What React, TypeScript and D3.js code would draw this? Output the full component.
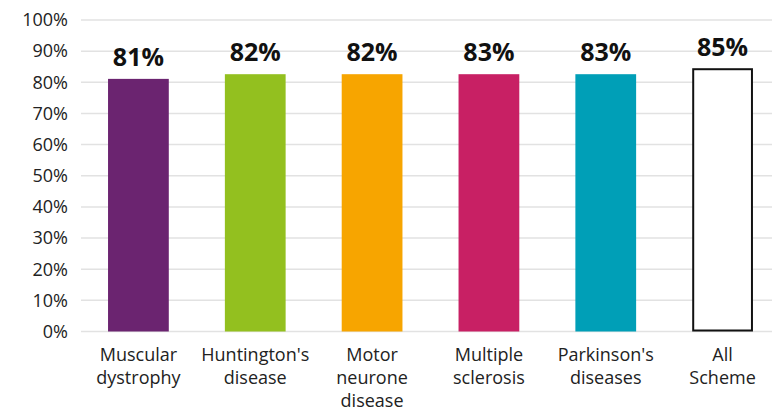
import React from "react";
import * as d3 from "d3";

const categories: string[][] = [
  ["Muscular", "dystrophy"],
  ["Huntington's", "disease"],
  ["Motor", "neurone", "disease"],
  ["Multiple", "sclerosis"],
  ["Parkinson's", "diseases"],
  ["All", "Scheme"],
];
const values: number[] = [81.1, 82.6, 82.6, 82.6, 82.6, 84.2];
const valueLabels: string[] = ["81%", "82%", "82%", "83%", "83%", "85%"];
const colors: string[] = ["#6B2470", "#93C01F", "#F7A500", "#C82064", "#009FB7", "#FFFFFF"];
const yTicks: number[] = [0, 10, 20, 30, 40, 50, 60, 70, 80, 90, 100];

const W = 772;
const H = 411;
const FONT = "'Open Sans', 'Noto Sans', sans-serif";

export default function App() {
  const x = d3
    .scaleBand<number>()
    .domain(d3.range(categories.length))
    .range([80, 781])
    .paddingInner(0.48)
    .paddingOuter(0.24);
  const y = d3.scaleLinear().domain([0, 100]).range([331.5, 20]);

  return (
    <svg
      width={W}
      height={H}
      style={{ position: "absolute", left: 0, top: 0, fontFamily: FONT }}
    >
      <rect width={W} height={H} fill="#fff" />
      {yTicks.map((t) => (
        <g key={t}>
          <line x1={81} x2={W} y1={y(t)} y2={y(t)} stroke="#e2e2e2" strokeWidth={1.5} />
          <text
            x={68}
            y={y(t)}
            dy="0.35em"
            textAnchor="end"
            fontSize={18}
            fill="#222"
          >
            {t}%
          </text>
        </g>
      ))}
      {values.map((v, i) => {
        const isLast = i === values.length - 1;
        const bx = x(i)!;
        const bw = x.bandwidth();
        return (
          <g key={i}>
            <rect
              x={isLast ? bx + 1 : bx}
              y={y(v)}
              width={isLast ? bw - 2 : bw}
              height={y(0) - y(v) - (isLast ? 1 : 0)}
              fill={colors[i]}
              stroke={isLast ? "#111" : "none"}
              strokeWidth={isLast ? 2 : 0}
            />
            <text
              x={bx + bw / 2}
              y={y(v) - 13}
              textAnchor="middle"
              fontSize={25}
              fontWeight="bold"
              fill="#111"
            >
              {valueLabels[i]}
            </text>
            {categories[i].map((line, j) => (
              <text
                key={j}
                x={bx + bw / 2}
                y={361 + j * 23}
                textAnchor="middle"
                fontSize={18}
                fill="#222"
              >
                {line}
              </text>
            ))}
          </g>
        );
      })}
    </svg>
  );
}
